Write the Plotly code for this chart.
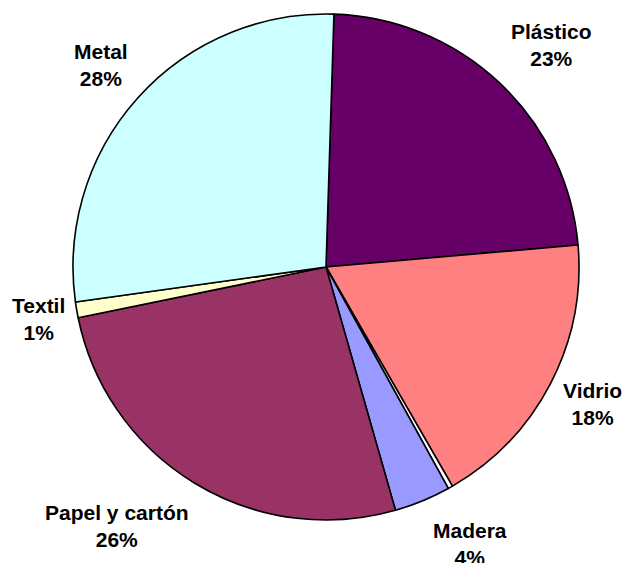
import math
import plotly.graph_objects as go

labels = ["Plástico", "Vidrio", "Otros", "Madera", "Papel y cartón", "Textil", "Metal"]
values = [23.1, 18.05, 0.3, 3.6, 26.2, 1.0, 27.7]
show_label = [True, True, False, True, True, True, True]
colors = ["#660066", "#FF8080", "#FFFFFF", "#9999FF", "#993366", "#FFFFCC", "#CCFFFF"]

# layout-only label placement: (angle nudge in degrees, distance as fraction of radius)
label_nudge = [2.0, -0.3, 0.0, -5.0, 7.6, -0.5, 0.0]
label_dist = [1.249, 1.186, 1.0, 1.232, 1.314, 1.154, 1.194]

W, H = 627, 563
cx, cy, R = 326, 267, 253
start_deg = 1.8
font_px = 21

fig = go.Figure(go.Pie(
    labels=labels, values=values, sort=False, direction="clockwise",
    rotation=start_deg, textinfo="none", hoverinfo="label+percent",
    marker=dict(colors=colors, line=dict(color="black", width=1.6)),
    domain=dict(x=[(cx - R) / W, (cx + R) / W], y=[1 - (cy + R) / H, 1 - (cy - R) / H]),
    showlegend=False,
))

total = sum(values)
acc = 0.0
for lab, v, show, nud, dist in zip(labels, values, show_label, label_nudge, label_dist):
    mid = start_deg + (acc + v / 2) / total * 360
    acc += v
    if not show:
        continue
    pct = round(v / total * 100)
    th = math.radians(mid + nud)
    d = R * dist
    px = cx + d * math.sin(th)
    py = cy - d * math.cos(th)
    fig.add_annotation(
        x=px / W, y=1 - py / H, xref="paper", yref="paper",
        text=f"{lab}<br>{pct}%", showarrow=False,
        xanchor="center", yanchor="middle", align="center",
        font=dict(family="Liberation Sans, Arial, sans-serif", size=font_px, color="black", weight="bold"),
    )

fig.update_layout(
    width=W, height=H, margin=dict(l=0, r=0, t=0, b=0),
    paper_bgcolor="white", plot_bgcolor="white",
)
fig.write_html(
    "out.html",
    config={"displayModeBar": False},
    post_script="document.body.style.margin='0';document.body.style.overflow='hidden';",
)
